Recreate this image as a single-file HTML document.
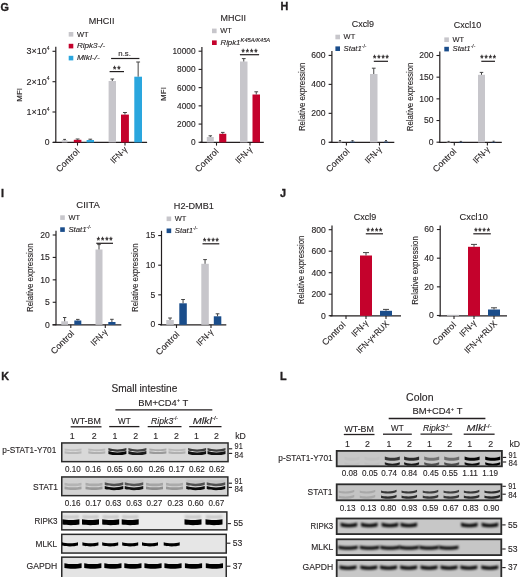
<!DOCTYPE html><html><head><meta charset="utf-8"><style>html,body{margin:0;padding:0;background:#fff;}svg{display:block;filter:blur(0.3px);}text{stroke:#231f20;stroke-width:0.12px;}</style></head><body>
<svg width="520" height="577" viewBox="0 0 520 577" font-family='"Liberation Sans", sans-serif' fill="#231f20">
<defs><filter id="bl" x="-20%" y="-100%" width="140%" height="300%"><feGaussianBlur stdDeviation="0.55"/></filter><filter id="bl3" x="-20%" y="-100%" width="140%" height="300%"><feGaussianBlur stdDeviation="0.85"/></filter><filter id="bl2" x="-20%" y="-100%" width="140%" height="300%"><feGaussianBlur stdDeviation="1.1"/></filter></defs>
<rect width="520" height="577" fill="#fff"/>
<text x="0.50" y="10.50" font-size="10.8" font-weight="bold" style="stroke-width:0.35px">G</text>
<text x="280.40" y="10.40" font-size="10.8" font-weight="bold" style="stroke-width:0.35px">H</text>
<text x="1.00" y="196.60" font-size="10.8" font-weight="bold" style="stroke-width:0.35px">I</text>
<text x="280.00" y="197.20" font-size="10.8" font-weight="bold" style="stroke-width:0.35px">J</text>
<text x="1.20" y="380.30" font-size="10.8" font-weight="bold" style="stroke-width:0.35px">K</text>
<text x="280.00" y="380.30" font-size="10.8" font-weight="bold" style="stroke-width:0.35px">L</text>
<line x1="55.80" y1="46.80" x2="55.80" y2="142.90" stroke="#231f20" stroke-width="1.2"/>
<line x1="52.50" y1="142.40" x2="55.80" y2="142.40" stroke="#231f20" stroke-width="1.1"/>
<line x1="52.50" y1="112.00" x2="55.80" y2="112.00" stroke="#231f20" stroke-width="1.1"/>
<line x1="52.50" y1="81.70" x2="55.80" y2="81.70" stroke="#231f20" stroke-width="1.1"/>
<line x1="52.50" y1="51.30" x2="55.80" y2="51.30" stroke="#231f20" stroke-width="1.1"/>
<text x="49.50" y="145.40" font-size="8.6" text-anchor="end">0</text>
<text x="49.60" y="114.80" font-size="9.0" text-anchor="end">1×10<tspan font-size="5.0" dy="-4.2">4</tspan></text>
<text x="49.60" y="84.50" font-size="9.0" text-anchor="end">2×10<tspan font-size="5.0" dy="-4.2">4</tspan></text>
<text x="49.60" y="54.10" font-size="9.0" text-anchor="end">3×10<tspan font-size="5.0" dy="-4.2">4</tspan></text>
<text x="22.40" y="94.80" font-size="8.0" text-anchor="middle" transform="rotate(-90 22.40 94.80)">MFI</text>
<text x="101.60" y="24.10" font-size="9.4" text-anchor="middle" textLength="25.60" lengthAdjust="spacingAndGlyphs">MHCII</text>
<rect x="68.70" y="32.00" width="4.60" height="4.60" fill="#c7c6cb"/>
<text x="76.90" y="36.60" font-size="7.8" textLength="11.60" lengthAdjust="spacingAndGlyphs">WT</text>
<rect x="68.70" y="43.80" width="4.60" height="4.60" fill="#c4022c"/>
<text x="76.90" y="48.40" font-size="7.8" font-style="italic" textLength="28.40" lengthAdjust="spacingAndGlyphs">Ripk3-/-</text>
<rect x="68.70" y="55.80" width="4.60" height="4.60" fill="#2aa6de"/>
<text x="76.90" y="60.40" font-size="7.8" font-style="italic" textLength="22.80" lengthAdjust="spacingAndGlyphs">Mlkl-/-</text>
<line x1="52.90" y1="142.40" x2="147.10" y2="142.40" stroke="#231f20" stroke-width="1.2"/>
<line x1="77.50" y1="142.40" x2="77.50" y2="145.60" stroke="#231f20" stroke-width="1.1"/>
<line x1="125.00" y1="142.40" x2="125.00" y2="145.60" stroke="#231f20" stroke-width="1.1"/>
<rect x="61.80" y="140.20" width="5.60" height="2.20" fill="#c7c6cb"/>
<line x1="64.60" y1="140.20" x2="64.60" y2="139.40" stroke="#444" stroke-width="1.0"/>
<line x1="63.20" y1="139.40" x2="66.00" y2="139.40" stroke="#444" stroke-width="1.0"/>
<rect x="73.80" y="139.80" width="7.60" height="2.60" fill="#c4022c"/>
<line x1="77.60" y1="139.80" x2="77.60" y2="139.00" stroke="#444" stroke-width="1.0"/>
<line x1="75.70" y1="139.00" x2="79.50" y2="139.00" stroke="#444" stroke-width="1.0"/>
<rect x="86.60" y="140.00" width="7.40" height="2.40" fill="#2aa6de"/>
<line x1="90.30" y1="140.00" x2="90.30" y2="139.20" stroke="#444" stroke-width="1.0"/>
<line x1="88.45" y1="139.20" x2="92.15" y2="139.20" stroke="#444" stroke-width="1.0"/>
<rect x="108.60" y="81.00" width="7.40" height="61.40" fill="#c7c6cb"/>
<line x1="112.30" y1="81.00" x2="112.30" y2="79.00" stroke="#444" stroke-width="1.0"/>
<line x1="110.45" y1="79.00" x2="114.15" y2="79.00" stroke="#444" stroke-width="1.0"/>
<rect x="121.00" y="114.60" width="7.90" height="27.80" fill="#c4022c"/>
<line x1="124.95" y1="114.60" x2="124.95" y2="112.50" stroke="#444" stroke-width="1.0"/>
<line x1="122.97" y1="112.50" x2="126.93" y2="112.50" stroke="#444" stroke-width="1.0"/>
<rect x="134.30" y="76.70" width="7.70" height="65.70" fill="#2aa6de"/>
<line x1="138.15" y1="76.70" x2="138.15" y2="62.00" stroke="#444" stroke-width="1.0"/>
<line x1="136.23" y1="62.00" x2="140.07" y2="62.00" stroke="#444" stroke-width="1.0"/>
<line x1="109.60" y1="71.60" x2="124.00" y2="71.60" stroke="#231f20" stroke-width="1.2"/>
<text x="117.30" y="71.50" font-size="8.4" text-anchor="middle" letter-spacing="0.95" style="stroke-width:0.3px">**</text>
<line x1="111.10" y1="58.50" x2="139.40" y2="58.50" stroke="#231f20" stroke-width="1.2"/>
<text x="124.60" y="56.00" font-size="7.8" text-anchor="middle">n.s.</text>
<text x="80.10" y="152.00" font-size="8.8" text-anchor="end" textLength="29.20" lengthAdjust="spacingAndGlyphs" transform="rotate(-45 80.10 152.00)">Control</text>
<text x="127.90" y="150.20" font-size="8.8" text-anchor="end" textLength="19.60" lengthAdjust="spacingAndGlyphs" transform="rotate(-45 127.90 150.20)">IFN-γ</text>
<line x1="201.90" y1="47.00" x2="201.90" y2="142.90" stroke="#231f20" stroke-width="1.2"/>
<line x1="198.60" y1="142.30" x2="201.90" y2="142.30" stroke="#231f20" stroke-width="1.1"/>
<line x1="198.60" y1="124.08" x2="201.90" y2="124.08" stroke="#231f20" stroke-width="1.1"/>
<line x1="198.60" y1="105.86" x2="201.90" y2="105.86" stroke="#231f20" stroke-width="1.1"/>
<line x1="198.60" y1="87.64" x2="201.90" y2="87.64" stroke="#231f20" stroke-width="1.1"/>
<line x1="198.60" y1="69.42" x2="201.90" y2="69.42" stroke="#231f20" stroke-width="1.1"/>
<line x1="198.60" y1="51.20" x2="201.90" y2="51.20" stroke="#231f20" stroke-width="1.1"/>
<text x="195.60" y="145.20" font-size="8.6" text-anchor="end" textLength="4.62" lengthAdjust="spacingAndGlyphs">0</text>
<text x="195.60" y="126.98" font-size="8.6" text-anchor="end" textLength="18.48" lengthAdjust="spacingAndGlyphs">2000</text>
<text x="195.60" y="108.76" font-size="8.6" text-anchor="end" textLength="18.48" lengthAdjust="spacingAndGlyphs">4000</text>
<text x="195.60" y="90.54" font-size="8.6" text-anchor="end" textLength="18.48" lengthAdjust="spacingAndGlyphs">6000</text>
<text x="195.60" y="72.32" font-size="8.6" text-anchor="end" textLength="18.48" lengthAdjust="spacingAndGlyphs">8000</text>
<text x="195.60" y="54.10" font-size="8.6" text-anchor="end" textLength="23.10" lengthAdjust="spacingAndGlyphs">10000</text>
<text x="165.60" y="94.00" font-size="8.0" text-anchor="middle" transform="rotate(-90 165.60 94.00)">MFI</text>
<text x="233.30" y="21.20" font-size="9.4" text-anchor="middle" textLength="25.40" lengthAdjust="spacingAndGlyphs">MHCII</text>
<rect x="212.00" y="28.60" width="4.60" height="4.60" fill="#c7c6cb"/>
<text x="220.20" y="33.20" font-size="7.8" textLength="11.60" lengthAdjust="spacingAndGlyphs">WT</text>
<rect x="212.0" y="40.4" width="4.7" height="4.6" fill="#c4022c"/>
<text x="220.5" y="45.3" font-size="7.8" font-style="italic">Ripk1</text>
<text x="240.6" y="41.6" font-size="5.4" font-style="italic" textLength="29.6" lengthAdjust="spacingAndGlyphs">K45A/K45A</text>
<line x1="200.00" y1="142.40" x2="263.80" y2="142.40" stroke="#231f20" stroke-width="1.2"/>
<line x1="216.50" y1="142.40" x2="216.50" y2="145.60" stroke="#231f20" stroke-width="1.1"/>
<line x1="250.00" y1="142.40" x2="250.00" y2="145.60" stroke="#231f20" stroke-width="1.1"/>
<rect x="206.80" y="137.00" width="7.00" height="5.40" fill="#c7c6cb"/>
<line x1="210.30" y1="137.00" x2="210.30" y2="135.80" stroke="#444" stroke-width="1.0"/>
<line x1="208.55" y1="135.80" x2="212.05" y2="135.80" stroke="#444" stroke-width="1.0"/>
<rect x="219.20" y="133.80" width="7.10" height="8.60" fill="#c4022c"/>
<line x1="222.75" y1="133.80" x2="222.75" y2="132.40" stroke="#444" stroke-width="1.0"/>
<line x1="220.97" y1="132.40" x2="224.53" y2="132.40" stroke="#444" stroke-width="1.0"/>
<rect x="240.00" y="61.50" width="7.50" height="80.90" fill="#c7c6cb"/>
<line x1="243.75" y1="61.50" x2="243.75" y2="58.60" stroke="#444" stroke-width="1.0"/>
<line x1="241.88" y1="58.60" x2="245.62" y2="58.60" stroke="#444" stroke-width="1.0"/>
<rect x="252.50" y="94.50" width="7.50" height="47.90" fill="#c4022c"/>
<line x1="256.25" y1="94.50" x2="256.25" y2="91.80" stroke="#444" stroke-width="1.0"/>
<line x1="254.38" y1="91.80" x2="258.12" y2="91.80" stroke="#444" stroke-width="1.0"/>
<line x1="239.90" y1="54.70" x2="259.10" y2="54.70" stroke="#231f20" stroke-width="1.2"/>
<text x="250.00" y="54.60" font-size="8.4" text-anchor="middle" letter-spacing="0.95" style="stroke-width:0.3px">****</text>
<text x="219.10" y="152.00" font-size="8.8" text-anchor="end" textLength="29.20" lengthAdjust="spacingAndGlyphs" transform="rotate(-45 219.10 152.00)">Control</text>
<text x="252.90" y="150.20" font-size="8.8" text-anchor="end" textLength="19.60" lengthAdjust="spacingAndGlyphs" transform="rotate(-45 252.90 150.20)">IFN-γ</text>
<line x1="331.90" y1="51.00" x2="331.90" y2="142.90" stroke="#231f20" stroke-width="1.2"/>
<line x1="328.60" y1="142.30" x2="331.90" y2="142.30" stroke="#231f20" stroke-width="1.1"/>
<line x1="328.60" y1="113.34" x2="331.90" y2="113.34" stroke="#231f20" stroke-width="1.1"/>
<line x1="328.60" y1="84.38" x2="331.90" y2="84.38" stroke="#231f20" stroke-width="1.1"/>
<line x1="328.60" y1="55.42" x2="331.90" y2="55.42" stroke="#231f20" stroke-width="1.1"/>
<text x="325.60" y="145.20" font-size="8.6" text-anchor="end">0</text>
<text x="325.60" y="116.24" font-size="8.6" text-anchor="end">200</text>
<text x="325.60" y="87.28" font-size="8.6" text-anchor="end">400</text>
<text x="325.60" y="58.32" font-size="8.6" text-anchor="end">600</text>
<text x="305.00" y="96.80" font-size="8.8" text-anchor="middle" textLength="68.60" lengthAdjust="spacingAndGlyphs" transform="rotate(-90 305.00 96.80)">Relative expression</text>
<text x="362.90" y="27.30" font-size="9.4" text-anchor="middle" textLength="22.40" lengthAdjust="spacingAndGlyphs">Cxcl9</text>
<rect x="335.40" y="34.70" width="4.60" height="4.60" fill="#c7c6cb"/>
<text x="343.60" y="39.30" font-size="7.8" textLength="11.60" lengthAdjust="spacingAndGlyphs">WT</text>
<rect x="335.40" y="46.40" width="4.60" height="4.60" fill="#1a4d8b"/>
<text x="343.60" y="51.00" font-size="7.8" font-style="italic">Stat1<tspan font-size="4.84" dy="-3.3" font-style="normal">-/-</tspan></text>
<line x1="329.50" y1="142.40" x2="394.30" y2="142.40" stroke="#231f20" stroke-width="1.2"/>
<line x1="346.40" y1="142.40" x2="346.40" y2="145.60" stroke="#231f20" stroke-width="1.1"/>
<line x1="379.50" y1="142.40" x2="379.50" y2="145.60" stroke="#231f20" stroke-width="1.1"/>
<rect x="337.80" y="141.60" width="4.40" height="0.80" fill="#c7c6cb"/>
<line x1="340.00" y1="141.60" x2="340.00" y2="140.60" stroke="#444" stroke-width="1.0"/>
<line x1="338.90" y1="140.60" x2="341.10" y2="140.60" stroke="#444" stroke-width="1.0"/>
<rect x="350.40" y="141.60" width="4.20" height="0.80" fill="#1a4d8b"/>
<line x1="352.50" y1="141.60" x2="352.50" y2="140.60" stroke="#444" stroke-width="1.0"/>
<line x1="351.45" y1="140.60" x2="353.55" y2="140.60" stroke="#444" stroke-width="1.0"/>
<rect x="370.00" y="74.00" width="7.50" height="68.40" fill="#c7c6cb"/>
<line x1="373.75" y1="74.00" x2="373.75" y2="68.20" stroke="#444" stroke-width="1.0"/>
<line x1="371.88" y1="68.20" x2="375.62" y2="68.20" stroke="#444" stroke-width="1.0"/>
<rect x="384.00" y="141.60" width="4.00" height="0.80" fill="#1a4d8b"/>
<line x1="386.00" y1="141.60" x2="386.00" y2="140.60" stroke="#444" stroke-width="1.0"/>
<line x1="385.00" y1="140.60" x2="387.00" y2="140.60" stroke="#444" stroke-width="1.0"/>
<line x1="373.80" y1="61.30" x2="388.00" y2="61.30" stroke="#231f20" stroke-width="1.2"/>
<text x="381.40" y="61.20" font-size="8.4" text-anchor="middle" letter-spacing="0.95" style="stroke-width:0.3px">****</text>
<text x="350.10" y="152.00" font-size="8.8" text-anchor="end" textLength="29.20" lengthAdjust="spacingAndGlyphs" transform="rotate(-45 350.10 152.00)">Control</text>
<text x="382.40" y="150.20" font-size="8.8" text-anchor="end" textLength="19.60" lengthAdjust="spacingAndGlyphs" transform="rotate(-45 382.40 150.20)">IFN-γ</text>
<line x1="439.80" y1="51.50" x2="439.80" y2="142.90" stroke="#231f20" stroke-width="1.2"/>
<line x1="436.50" y1="142.20" x2="439.80" y2="142.20" stroke="#231f20" stroke-width="1.1"/>
<line x1="436.50" y1="120.52" x2="439.80" y2="120.52" stroke="#231f20" stroke-width="1.1"/>
<line x1="436.50" y1="98.85" x2="439.80" y2="98.85" stroke="#231f20" stroke-width="1.1"/>
<line x1="436.50" y1="77.17" x2="439.80" y2="77.17" stroke="#231f20" stroke-width="1.1"/>
<line x1="436.50" y1="55.50" x2="439.80" y2="55.50" stroke="#231f20" stroke-width="1.1"/>
<text x="433.50" y="145.10" font-size="8.6" text-anchor="end">0</text>
<text x="433.50" y="123.42" font-size="8.6" text-anchor="end">50</text>
<text x="433.50" y="101.75" font-size="8.6" text-anchor="end">100</text>
<text x="433.50" y="80.07" font-size="8.6" text-anchor="end">150</text>
<text x="433.50" y="58.40" font-size="8.6" text-anchor="end">200</text>
<text x="413.20" y="96.90" font-size="8.8" text-anchor="middle" textLength="68.60" lengthAdjust="spacingAndGlyphs" transform="rotate(-90 413.20 96.90)">Relative expression</text>
<text x="467.50" y="28.20" font-size="9.4" text-anchor="middle" textLength="27.40" lengthAdjust="spacingAndGlyphs">Cxcl10</text>
<rect x="444.30" y="37.40" width="4.60" height="4.60" fill="#c7c6cb"/>
<text x="452.50" y="42.00" font-size="7.8" textLength="11.60" lengthAdjust="spacingAndGlyphs">WT</text>
<rect x="444.30" y="46.80" width="4.60" height="4.60" fill="#1a4d8b"/>
<text x="452.50" y="51.40" font-size="7.8" font-style="italic">Stat1<tspan font-size="4.84" dy="-3.3" font-style="normal">-/-</tspan></text>
<line x1="438.80" y1="142.40" x2="501.80" y2="142.40" stroke="#231f20" stroke-width="1.2"/>
<line x1="454.30" y1="142.40" x2="454.30" y2="145.60" stroke="#231f20" stroke-width="1.1"/>
<line x1="487.40" y1="142.40" x2="487.40" y2="145.60" stroke="#231f20" stroke-width="1.1"/>
<rect x="446.60" y="141.90" width="4.00" height="0.50" fill="#c7c6cb"/>
<line x1="448.60" y1="141.90" x2="448.60" y2="141.40" stroke="#444" stroke-width="1.0"/>
<line x1="447.60" y1="141.40" x2="449.60" y2="141.40" stroke="#444" stroke-width="1.0"/>
<rect x="458.80" y="141.90" width="4.00" height="0.50" fill="#1a4d8b"/>
<line x1="460.80" y1="141.90" x2="460.80" y2="141.40" stroke="#444" stroke-width="1.0"/>
<line x1="459.80" y1="141.40" x2="461.80" y2="141.40" stroke="#444" stroke-width="1.0"/>
<rect x="478.00" y="74.80" width="7.00" height="67.60" fill="#c7c6cb"/>
<line x1="481.50" y1="74.80" x2="481.50" y2="72.40" stroke="#444" stroke-width="1.0"/>
<line x1="479.75" y1="72.40" x2="483.25" y2="72.40" stroke="#444" stroke-width="1.0"/>
<rect x="491.60" y="141.90" width="4.00" height="0.50" fill="#1a4d8b"/>
<line x1="493.60" y1="141.90" x2="493.60" y2="141.20" stroke="#444" stroke-width="1.0"/>
<line x1="492.60" y1="141.20" x2="494.60" y2="141.20" stroke="#444" stroke-width="1.0"/>
<line x1="481.30" y1="61.30" x2="495.00" y2="61.30" stroke="#231f20" stroke-width="1.2"/>
<text x="488.65" y="61.20" font-size="8.4" text-anchor="middle" letter-spacing="0.95" style="stroke-width:0.3px">****</text>
<text x="456.90" y="152.00" font-size="8.8" text-anchor="end" textLength="29.20" lengthAdjust="spacingAndGlyphs" transform="rotate(-45 456.90 152.00)">Control</text>
<text x="490.30" y="150.20" font-size="8.8" text-anchor="end" textLength="19.60" lengthAdjust="spacingAndGlyphs" transform="rotate(-45 490.30 150.20)">IFN-γ</text>
<line x1="56.00" y1="230.80" x2="56.00" y2="325.30" stroke="#231f20" stroke-width="1.2"/>
<line x1="52.70" y1="324.70" x2="56.00" y2="324.70" stroke="#231f20" stroke-width="1.1"/>
<line x1="52.70" y1="302.27" x2="56.00" y2="302.27" stroke="#231f20" stroke-width="1.1"/>
<line x1="52.70" y1="279.85" x2="56.00" y2="279.85" stroke="#231f20" stroke-width="1.1"/>
<line x1="52.70" y1="257.42" x2="56.00" y2="257.42" stroke="#231f20" stroke-width="1.1"/>
<line x1="52.70" y1="235.00" x2="56.00" y2="235.00" stroke="#231f20" stroke-width="1.1"/>
<text x="49.70" y="327.60" font-size="8.6" text-anchor="end">0</text>
<text x="49.70" y="305.17" font-size="8.6" text-anchor="end">5</text>
<text x="49.70" y="282.75" font-size="8.6" text-anchor="end">10</text>
<text x="49.70" y="260.32" font-size="8.6" text-anchor="end">15</text>
<text x="49.70" y="237.90" font-size="8.6" text-anchor="end">20</text>
<text x="33.20" y="277.70" font-size="8.8" text-anchor="middle" textLength="68.60" lengthAdjust="spacingAndGlyphs" transform="rotate(-90 33.20 277.70)">Relative expression</text>
<text x="88.10" y="208.20" font-size="9.4" text-anchor="middle" textLength="23.60" lengthAdjust="spacingAndGlyphs">CIITA</text>
<rect x="60.20" y="215.30" width="4.60" height="4.60" fill="#c7c6cb"/>
<text x="68.40" y="219.90" font-size="7.8" textLength="11.60" lengthAdjust="spacingAndGlyphs">WT</text>
<rect x="60.20" y="227.30" width="4.60" height="4.60" fill="#1a4d8b"/>
<text x="68.40" y="231.90" font-size="7.8" font-style="italic">Stat1<tspan font-size="4.84" dy="-3.3" font-style="normal">-/-</tspan></text>
<line x1="52.50" y1="324.80" x2="121.30" y2="324.80" stroke="#231f20" stroke-width="1.2"/>
<line x1="70.80" y1="324.80" x2="70.80" y2="328.00" stroke="#231f20" stroke-width="1.1"/>
<line x1="105.30" y1="324.80" x2="105.30" y2="328.00" stroke="#231f20" stroke-width="1.1"/>
<rect x="61.30" y="321.30" width="6.70" height="3.50" fill="#c7c6cb"/>
<line x1="64.65" y1="321.30" x2="64.65" y2="317.50" stroke="#444" stroke-width="1.0"/>
<line x1="62.98" y1="317.50" x2="66.33" y2="317.50" stroke="#444" stroke-width="1.0"/>
<rect x="74.30" y="320.50" width="7.00" height="4.30" fill="#1a4d8b"/>
<line x1="77.80" y1="320.50" x2="77.80" y2="319.40" stroke="#444" stroke-width="1.0"/>
<line x1="76.05" y1="319.40" x2="79.55" y2="319.40" stroke="#444" stroke-width="1.0"/>
<rect x="95.50" y="249.50" width="7.00" height="75.30" fill="#c7c6cb"/>
<line x1="99.00" y1="249.50" x2="99.00" y2="244.60" stroke="#444" stroke-width="1.0"/>
<line x1="97.25" y1="244.60" x2="100.75" y2="244.60" stroke="#444" stroke-width="1.0"/>
<rect x="108.30" y="322.00" width="7.20" height="2.80" fill="#1a4d8b"/>
<line x1="111.90" y1="322.00" x2="111.90" y2="319.30" stroke="#444" stroke-width="1.0"/>
<line x1="110.10" y1="319.30" x2="113.70" y2="319.30" stroke="#444" stroke-width="1.0"/>
<line x1="96.30" y1="243.30" x2="113.00" y2="243.30" stroke="#231f20" stroke-width="1.2"/>
<text x="105.15" y="243.20" font-size="8.4" text-anchor="middle" letter-spacing="0.95" style="stroke-width:0.3px">****</text>
<text x="74.80" y="334.10" font-size="8.8" text-anchor="end" textLength="29.20" lengthAdjust="spacingAndGlyphs" transform="rotate(-45 74.80 334.10)">Control</text>
<text x="108.20" y="332.60" font-size="8.8" text-anchor="end" textLength="19.60" lengthAdjust="spacingAndGlyphs" transform="rotate(-45 108.20 332.60)">IFN-γ</text>
<line x1="161.50" y1="230.80" x2="161.50" y2="325.30" stroke="#231f20" stroke-width="1.2"/>
<line x1="158.20" y1="324.50" x2="161.50" y2="324.50" stroke="#231f20" stroke-width="1.1"/>
<line x1="158.20" y1="294.85" x2="161.50" y2="294.85" stroke="#231f20" stroke-width="1.1"/>
<line x1="158.20" y1="265.20" x2="161.50" y2="265.20" stroke="#231f20" stroke-width="1.1"/>
<line x1="158.20" y1="235.55" x2="161.50" y2="235.55" stroke="#231f20" stroke-width="1.1"/>
<text x="155.40" y="327.40" font-size="8.6" text-anchor="end">0</text>
<text x="155.40" y="297.75" font-size="8.6" text-anchor="end">5</text>
<text x="155.40" y="268.10" font-size="8.6" text-anchor="end">10</text>
<text x="155.40" y="238.45" font-size="8.6" text-anchor="end">15</text>
<text x="138.20" y="277.70" font-size="8.8" text-anchor="middle" textLength="68.60" lengthAdjust="spacingAndGlyphs" transform="rotate(-90 138.20 277.70)">Relative expression</text>
<text x="193.80" y="208.70" font-size="9.4" text-anchor="middle" textLength="40.00" lengthAdjust="spacingAndGlyphs">H2-DMB1</text>
<rect x="166.60" y="216.50" width="4.60" height="4.60" fill="#c7c6cb"/>
<text x="174.80" y="221.10" font-size="7.8" textLength="11.60" lengthAdjust="spacingAndGlyphs">WT</text>
<rect x="166.60" y="228.50" width="4.60" height="4.60" fill="#1a4d8b"/>
<text x="174.80" y="233.10" font-size="7.8" font-style="italic">Stat1<tspan font-size="4.84" dy="-3.3" font-style="normal">-/-</tspan></text>
<line x1="160.00" y1="324.80" x2="226.30" y2="324.80" stroke="#231f20" stroke-width="1.2"/>
<line x1="176.50" y1="324.80" x2="176.50" y2="328.00" stroke="#231f20" stroke-width="1.1"/>
<line x1="211.00" y1="324.80" x2="211.00" y2="328.00" stroke="#231f20" stroke-width="1.1"/>
<rect x="166.30" y="320.00" width="7.50" height="4.80" fill="#c7c6cb"/>
<line x1="170.05" y1="320.00" x2="170.05" y2="318.00" stroke="#444" stroke-width="1.0"/>
<line x1="168.18" y1="318.00" x2="171.93" y2="318.00" stroke="#444" stroke-width="1.0"/>
<rect x="179.30" y="303.30" width="7.50" height="21.50" fill="#1a4d8b"/>
<line x1="183.05" y1="303.30" x2="183.05" y2="299.50" stroke="#444" stroke-width="1.0"/>
<line x1="181.18" y1="299.50" x2="184.93" y2="299.50" stroke="#444" stroke-width="1.0"/>
<rect x="201.30" y="263.80" width="7.50" height="61.00" fill="#c7c6cb"/>
<line x1="205.05" y1="263.80" x2="205.05" y2="259.60" stroke="#444" stroke-width="1.0"/>
<line x1="203.18" y1="259.60" x2="206.93" y2="259.60" stroke="#444" stroke-width="1.0"/>
<rect x="213.80" y="316.30" width="7.50" height="8.50" fill="#1a4d8b"/>
<line x1="217.55" y1="316.30" x2="217.55" y2="313.80" stroke="#444" stroke-width="1.0"/>
<line x1="215.68" y1="313.80" x2="219.43" y2="313.80" stroke="#444" stroke-width="1.0"/>
<line x1="202.50" y1="243.80" x2="219.30" y2="243.80" stroke="#231f20" stroke-width="1.2"/>
<text x="211.40" y="243.70" font-size="8.4" text-anchor="middle" letter-spacing="0.95" style="stroke-width:0.3px">****</text>
<text x="180.00" y="335.00" font-size="8.8" text-anchor="end" textLength="29.20" lengthAdjust="spacingAndGlyphs" transform="rotate(-45 180.00 335.00)">Control</text>
<text x="213.90" y="332.60" font-size="8.8" text-anchor="end" textLength="19.60" lengthAdjust="spacingAndGlyphs" transform="rotate(-45 213.90 332.60)">IFN-γ</text>
<line x1="332.00" y1="225.50" x2="332.00" y2="316.30" stroke="#231f20" stroke-width="1.2"/>
<line x1="328.70" y1="315.70" x2="332.00" y2="315.70" stroke="#231f20" stroke-width="1.1"/>
<line x1="328.70" y1="294.20" x2="332.00" y2="294.20" stroke="#231f20" stroke-width="1.1"/>
<line x1="328.70" y1="272.70" x2="332.00" y2="272.70" stroke="#231f20" stroke-width="1.1"/>
<line x1="328.70" y1="251.20" x2="332.00" y2="251.20" stroke="#231f20" stroke-width="1.1"/>
<line x1="328.70" y1="229.70" x2="332.00" y2="229.70" stroke="#231f20" stroke-width="1.1"/>
<text x="325.80" y="318.60" font-size="8.6" text-anchor="end">0</text>
<text x="325.80" y="297.10" font-size="8.6" text-anchor="end">200</text>
<text x="325.80" y="275.60" font-size="8.6" text-anchor="end">400</text>
<text x="325.80" y="254.10" font-size="8.6" text-anchor="end">600</text>
<text x="325.80" y="232.60" font-size="8.6" text-anchor="end">800</text>
<text x="304.00" y="269.90" font-size="8.8" text-anchor="middle" textLength="68.60" lengthAdjust="spacingAndGlyphs" transform="rotate(-90 304.00 269.90)">Relative expression</text>
<text x="365.00" y="219.80" font-size="9.4" text-anchor="middle" textLength="22.40" lengthAdjust="spacingAndGlyphs">Cxcl9</text>
<line x1="330.00" y1="315.80" x2="401.00" y2="315.80" stroke="#231f20" stroke-width="1.2"/>
<line x1="346.00" y1="315.80" x2="346.00" y2="319.00" stroke="#231f20" stroke-width="1.1"/>
<line x1="366.00" y1="315.80" x2="366.00" y2="319.00" stroke="#231f20" stroke-width="1.1"/>
<line x1="386.00" y1="315.80" x2="386.00" y2="319.00" stroke="#231f20" stroke-width="1.1"/>
<rect x="360.00" y="255.50" width="12.00" height="60.30" fill="#c4022c"/>
<line x1="366.00" y1="255.50" x2="366.00" y2="252.60" stroke="#444" stroke-width="1.0"/>
<line x1="363.00" y1="252.60" x2="369.00" y2="252.60" stroke="#444" stroke-width="1.0"/>
<rect x="380.00" y="310.80" width="12.00" height="5.00" fill="#1a4d8b"/>
<line x1="386.00" y1="310.80" x2="386.00" y2="309.40" stroke="#444" stroke-width="1.0"/>
<line x1="383.00" y1="309.40" x2="389.00" y2="309.40" stroke="#444" stroke-width="1.0"/>
<line x1="365.80" y1="233.80" x2="383.00" y2="233.80" stroke="#231f20" stroke-width="1.2"/>
<text x="374.90" y="233.70" font-size="8.4" text-anchor="middle" letter-spacing="0.95" style="stroke-width:0.3px">****</text>
<text x="346.10" y="325.40" font-size="8.8" text-anchor="end" textLength="29.20" lengthAdjust="spacingAndGlyphs" transform="rotate(-45 346.10 325.40)">Control</text>
<text x="368.90" y="323.60" font-size="8.8" text-anchor="end" textLength="19.60" lengthAdjust="spacingAndGlyphs" transform="rotate(-45 368.90 323.60)">IFN-γ</text>
<text x="389.60" y="324.40" font-size="8.8" text-anchor="end" textLength="42.00" lengthAdjust="spacingAndGlyphs" transform="rotate(-45 389.60 324.40)">IFN-γ+RUX</text>
<line x1="440.20" y1="225.50" x2="440.20" y2="316.30" stroke="#231f20" stroke-width="1.2"/>
<line x1="436.90" y1="315.50" x2="440.20" y2="315.50" stroke="#231f20" stroke-width="1.1"/>
<line x1="436.90" y1="286.84" x2="440.20" y2="286.84" stroke="#231f20" stroke-width="1.1"/>
<line x1="436.90" y1="258.18" x2="440.20" y2="258.18" stroke="#231f20" stroke-width="1.1"/>
<line x1="436.90" y1="229.52" x2="440.20" y2="229.52" stroke="#231f20" stroke-width="1.1"/>
<text x="433.80" y="318.40" font-size="8.6" text-anchor="end">0</text>
<text x="433.80" y="289.74" font-size="8.6" text-anchor="end">20</text>
<text x="433.80" y="261.08" font-size="8.6" text-anchor="end">40</text>
<text x="433.80" y="232.42" font-size="8.6" text-anchor="end">60</text>
<text x="417.60" y="270.50" font-size="8.8" text-anchor="middle" textLength="68.60" lengthAdjust="spacingAndGlyphs" transform="rotate(-90 417.60 270.50)">Relative expression</text>
<text x="473.80" y="220.00" font-size="9.4" text-anchor="middle" textLength="28.40" lengthAdjust="spacingAndGlyphs">Cxcl10</text>
<line x1="438.80" y1="315.80" x2="507.00" y2="315.80" stroke="#231f20" stroke-width="1.2"/>
<line x1="454.00" y1="315.80" x2="454.00" y2="319.00" stroke="#231f20" stroke-width="1.1"/>
<line x1="474.00" y1="315.80" x2="474.00" y2="319.00" stroke="#231f20" stroke-width="1.1"/>
<line x1="494.00" y1="315.80" x2="494.00" y2="319.00" stroke="#231f20" stroke-width="1.1"/>
<rect x="447.00" y="314.80" width="12.00" height="1.00" fill="#c7c6cb"/>
<rect x="468.00" y="246.80" width="12.00" height="69.00" fill="#c4022c"/>
<line x1="474.00" y1="246.80" x2="474.00" y2="244.40" stroke="#444" stroke-width="1.0"/>
<line x1="471.00" y1="244.40" x2="477.00" y2="244.40" stroke="#444" stroke-width="1.0"/>
<rect x="488.00" y="309.50" width="12.00" height="6.30" fill="#1a4d8b"/>
<line x1="494.00" y1="309.50" x2="494.00" y2="307.80" stroke="#444" stroke-width="1.0"/>
<line x1="491.00" y1="307.80" x2="497.00" y2="307.80" stroke="#444" stroke-width="1.0"/>
<line x1="473.30" y1="233.80" x2="490.80" y2="233.80" stroke="#231f20" stroke-width="1.2"/>
<text x="482.55" y="233.70" font-size="8.4" text-anchor="middle" letter-spacing="0.95" style="stroke-width:0.3px">****</text>
<text x="456.60" y="325.40" font-size="8.8" text-anchor="end" textLength="29.20" lengthAdjust="spacingAndGlyphs" transform="rotate(-45 456.60 325.40)">Control</text>
<text x="476.90" y="323.60" font-size="8.8" text-anchor="end" textLength="19.60" lengthAdjust="spacingAndGlyphs" transform="rotate(-45 476.90 323.60)">IFN-γ</text>
<text x="497.60" y="324.40" font-size="8.8" text-anchor="end" textLength="42.00" lengthAdjust="spacingAndGlyphs" transform="rotate(-45 497.60 324.40)">IFN-γ+RUX</text>
<text x="144.40" y="392.30" font-size="10.2" text-anchor="middle" textLength="66.00" lengthAdjust="spacingAndGlyphs">Small intestine</text>
<text x="163.3" y="405.5" font-size="9.4" text-anchor="middle" textLength="50" lengthAdjust="spacingAndGlyphs">BM+CD4<tspan font-size="5.8" dy="-3.6">+</tspan><tspan dy="3.6"> T</tspan></text>
<line x1="115.40" y1="409.80" x2="212.30" y2="409.80" stroke="#231f20" stroke-width="1.3"/>
<text x="86.10" y="423.80" font-size="8.8" text-anchor="middle" textLength="29.50" lengthAdjust="spacingAndGlyphs">WT-BM</text>
<line x1="70.70" y1="426.80" x2="101.50" y2="426.80" stroke="#231f20" stroke-width="1.3"/>
<text x="124.30" y="423.60" font-size="8.8" text-anchor="middle" textLength="12.60" lengthAdjust="spacingAndGlyphs">WT</text>
<line x1="109.20" y1="426.60" x2="139.40" y2="426.60" stroke="#231f20" stroke-width="1.3"/>
<text x="164.60" y="423.60" font-size="8.8" text-anchor="middle" textLength="27.00" lengthAdjust="spacingAndGlyphs" font-style="italic">Ripk3<tspan font-size="5.28" dy="-3.6" font-style="normal">-/-</tspan></text>
<line x1="147.70" y1="426.60" x2="181.50" y2="426.60" stroke="#231f20" stroke-width="1.3"/>
<text x="205.35" y="423.60" font-size="8.8" text-anchor="middle" textLength="25.40" lengthAdjust="spacingAndGlyphs" font-style="italic">Mlkl<tspan font-size="5.28" dy="-3.6" font-style="normal">-/-</tspan></text>
<line x1="189.20" y1="426.60" x2="221.50" y2="426.60" stroke="#231f20" stroke-width="1.3"/>
<text x="72.10" y="438.80" font-size="8.8" text-anchor="middle">1</text>
<text x="94.30" y="438.80" font-size="8.8" text-anchor="middle">2</text>
<text x="115.00" y="438.80" font-size="8.8" text-anchor="middle">1</text>
<text x="135.60" y="438.80" font-size="8.8" text-anchor="middle">2</text>
<text x="155.60" y="438.80" font-size="8.8" text-anchor="middle">1</text>
<text x="176.40" y="438.80" font-size="8.8" text-anchor="middle">2</text>
<text x="196.40" y="438.80" font-size="8.8" text-anchor="middle">1</text>
<text x="216.40" y="438.80" font-size="8.8" text-anchor="middle">2</text>
<text x="235.20" y="438.80" font-size="8.8" textLength="10.60" lengthAdjust="spacingAndGlyphs">kD</text>
<text x="56.30" y="452.90" font-size="8.6" text-anchor="end" textLength="54.00" lengthAdjust="spacingAndGlyphs">p-STAT1-Y701</text>
<rect x="61.75" y="442.95" width="166.30" height="18.70" fill="#d9d9d9" stroke="#2b2b2b" stroke-width="1.5"/>
<path d="M64.50,448.50 C68.75,449.45 77.25,449.45 81.50,448.50 L81.50,450.60 C77.25,451.40 68.75,451.40 64.50,450.60 Z" fill="#000" fill-opacity="0.12" filter="url(#bl)"/>
<path d="M64.50,451.30 C68.75,452.25 77.25,452.25 81.50,451.30 L81.50,453.40 C77.25,454.20 68.75,454.20 64.50,453.40 Z" fill="#000" fill-opacity="0.16" filter="url(#bl)"/>
<path d="M88.30,448.50 C92.55,449.45 101.05,449.45 105.30,448.50 L105.30,450.60 C101.05,451.40 92.55,451.40 88.30,450.60 Z" fill="#000" fill-opacity="0.15" filter="url(#bl)"/>
<path d="M88.30,451.30 C92.55,452.25 101.05,452.25 105.30,451.30 L105.30,453.40 C101.05,454.20 92.55,454.20 88.30,453.40 Z" fill="#000" fill-opacity="0.19" filter="url(#bl)"/>
<path d="M108.40,448.00 C112.90,449.90 121.90,449.90 126.40,448.00 L126.40,450.60 C121.90,452.20 112.90,452.20 108.40,450.60 Z" fill="#000" fill-opacity="0.75" filter="url(#bl)"/>
<path d="M108.40,451.10 C112.90,453.00 121.90,453.00 126.40,451.10 L126.40,453.90 C121.90,455.50 112.90,455.50 108.40,453.90 Z" fill="#000" fill-opacity="0.97" filter="url(#bl)"/>
<path d="M128.40,448.00 C132.90,449.90 141.90,449.90 146.40,448.00 L146.40,450.60 C141.90,452.20 132.90,452.20 128.40,450.60 Z" fill="#000" fill-opacity="0.68" filter="url(#bl)"/>
<path d="M128.40,451.10 C132.90,453.00 141.90,453.00 146.40,451.10 L146.40,453.90 C141.90,455.50 132.90,455.50 128.40,453.90 Z" fill="#000" fill-opacity="0.87" filter="url(#bl)"/>
<path d="M149.40,448.50 C153.65,449.45 162.15,449.45 166.40,448.50 L166.40,450.60 C162.15,451.40 153.65,451.40 149.40,450.60 Z" fill="#000" fill-opacity="0.22" filter="url(#bl)"/>
<path d="M149.40,451.30 C153.65,452.25 162.15,452.25 166.40,451.30 L166.40,453.40 C162.15,454.20 153.65,454.20 149.40,453.40 Z" fill="#000" fill-opacity="0.29" filter="url(#bl)"/>
<path d="M168.50,448.50 C172.75,449.45 181.25,449.45 185.50,448.50 L185.50,450.60 C181.25,451.40 172.75,451.40 168.50,450.60 Z" fill="#000" fill-opacity="0.15" filter="url(#bl)"/>
<path d="M168.50,451.30 C172.75,452.25 181.25,452.25 185.50,451.30 L185.50,453.40 C181.25,454.20 172.75,454.20 168.50,453.40 Z" fill="#000" fill-opacity="0.19" filter="url(#bl)"/>
<path d="M188.10,448.00 C192.60,449.90 201.60,449.90 206.10,448.00 L206.10,450.60 C201.60,452.20 192.60,452.20 188.10,450.60 Z" fill="#000" fill-opacity="0.71" filter="url(#bl)"/>
<path d="M188.10,451.10 C192.60,453.00 201.60,453.00 206.10,451.10 L206.10,453.90 C201.60,455.50 192.60,455.50 188.10,453.90 Z" fill="#000" fill-opacity="0.92" filter="url(#bl)"/>
<path d="M207.50,448.00 C212.00,449.90 221.00,449.90 225.50,448.00 L225.50,450.60 C221.00,452.20 212.00,452.20 207.50,450.60 Z" fill="#000" fill-opacity="0.71" filter="url(#bl)"/>
<path d="M207.50,451.10 C212.00,453.00 221.00,453.00 225.50,451.10 L225.50,453.90 C221.00,455.50 212.00,455.50 207.50,453.90 Z" fill="#000" fill-opacity="0.92" filter="url(#bl)"/>
<line x1="228.80" y1="448.80" x2="232.20" y2="448.80" stroke="#231f20" stroke-width="1.1"/>
<text x="234.60" y="448.90" font-size="9.4" textLength="8.10" lengthAdjust="spacingAndGlyphs">91</text>
<line x1="228.80" y1="453.40" x2="232.20" y2="453.40" stroke="#231f20" stroke-width="1.1"/>
<text x="234.60" y="457.50" font-size="9.4" textLength="8.80" lengthAdjust="spacingAndGlyphs">84</text>
<text x="73.00" y="471.70" font-size="8.6" text-anchor="middle" textLength="15.80" lengthAdjust="spacingAndGlyphs">0.10</text>
<text x="93.10" y="471.70" font-size="8.6" text-anchor="middle" textLength="15.80" lengthAdjust="spacingAndGlyphs">0.16</text>
<text x="114.90" y="471.70" font-size="8.6" text-anchor="middle" textLength="15.80" lengthAdjust="spacingAndGlyphs">0.65</text>
<text x="134.90" y="471.70" font-size="8.6" text-anchor="middle" textLength="15.80" lengthAdjust="spacingAndGlyphs">0.60</text>
<text x="156.70" y="471.70" font-size="8.6" text-anchor="middle" textLength="15.80" lengthAdjust="spacingAndGlyphs">0.26</text>
<text x="176.70" y="471.70" font-size="8.6" text-anchor="middle" textLength="15.80" lengthAdjust="spacingAndGlyphs">0.17</text>
<text x="196.80" y="471.70" font-size="8.6" text-anchor="middle" textLength="15.80" lengthAdjust="spacingAndGlyphs">0.62</text>
<text x="216.90" y="471.70" font-size="8.6" text-anchor="middle" textLength="15.80" lengthAdjust="spacingAndGlyphs">0.62</text>
<text x="58.00" y="489.60" font-size="8.6" text-anchor="end" textLength="25.00" lengthAdjust="spacingAndGlyphs">STAT1</text>
<rect x="61.75" y="476.95" width="166.10" height="18.70" fill="#d3d3d3" stroke="#2b2b2b" stroke-width="1.5"/>
<path d="M64.50,479.40 C68.75,481.30 77.25,481.30 81.50,479.40 L81.50,481.60 C77.25,483.20 68.75,483.20 64.50,481.60 Z" fill="#000" fill-opacity="0.03" filter="url(#bl2)"/>
<path d="M64.50,482.70 C68.75,483.84 77.25,483.84 81.50,482.70 L81.50,485.42 C77.25,486.38 68.75,486.38 64.50,485.42 Z" fill="#000" fill-opacity="0.15" filter="url(#bl)"/>
<path d="M64.50,486.40 C68.75,487.54 77.25,487.54 81.50,486.40 L81.50,489.32 C77.25,490.28 68.75,490.28 64.50,489.32 Z" fill="#000" fill-opacity="0.24" filter="url(#bl)"/>
<path d="M85.50,479.40 C89.75,481.30 98.25,481.30 102.50,479.40 L102.50,481.60 C98.25,483.20 89.75,483.20 85.50,481.60 Z" fill="#000" fill-opacity="0.04" filter="url(#bl2)"/>
<path d="M85.50,482.70 C89.75,483.84 98.25,483.84 102.50,482.70 L102.50,485.42 C98.25,486.38 89.75,486.38 85.50,485.42 Z" fill="#000" fill-opacity="0.19" filter="url(#bl)"/>
<path d="M85.50,486.40 C89.75,487.54 98.25,487.54 102.50,486.40 L102.50,489.32 C98.25,490.28 89.75,490.28 85.50,489.32 Z" fill="#000" fill-opacity="0.28" filter="url(#bl)"/>
<path d="M104.75,479.40 C109.38,481.30 118.62,481.30 123.25,479.40 L123.25,481.60 C118.62,483.20 109.38,483.20 104.75,481.60 Z" fill="#000" fill-opacity="0.12" filter="url(#bl2)"/>
<path d="M104.75,482.30 C109.38,484.20 118.62,484.20 123.25,482.30 L123.25,485.10 C118.62,486.70 109.38,486.70 104.75,485.10 Z" fill="#000" fill-opacity="0.62" filter="url(#bl)"/>
<path d="M104.75,486.00 C109.38,487.90 118.62,487.90 123.25,486.00 L123.25,489.00 C118.62,490.60 109.38,490.60 104.75,489.00 Z" fill="#000" fill-opacity="0.95" filter="url(#bl)"/>
<path d="M124.75,479.40 C129.38,481.30 138.62,481.30 143.25,479.40 L143.25,481.60 C138.62,483.20 129.38,483.20 124.75,481.60 Z" fill="#000" fill-opacity="0.11" filter="url(#bl2)"/>
<path d="M124.75,482.30 C129.38,484.20 138.62,484.20 143.25,482.30 L143.25,485.10 C138.62,486.70 129.38,486.70 124.75,485.10 Z" fill="#000" fill-opacity="0.59" filter="url(#bl)"/>
<path d="M124.75,486.00 C129.38,487.90 138.62,487.90 143.25,486.00 L143.25,489.00 C138.62,490.60 129.38,490.60 124.75,489.00 Z" fill="#000" fill-opacity="0.90" filter="url(#bl)"/>
<path d="M146.00,479.40 C150.25,481.30 158.75,481.30 163.00,479.40 L163.00,481.60 C158.75,483.20 150.25,483.20 146.00,481.60 Z" fill="#000" fill-opacity="0.04" filter="url(#bl2)"/>
<path d="M146.00,482.70 C150.25,483.84 158.75,483.84 163.00,482.70 L163.00,485.42 C158.75,486.38 150.25,486.38 146.00,485.42 Z" fill="#000" fill-opacity="0.22" filter="url(#bl)"/>
<path d="M146.00,486.40 C150.25,487.54 158.75,487.54 163.00,486.40 L163.00,489.32 C158.75,490.28 150.25,490.28 146.00,489.32 Z" fill="#000" fill-opacity="0.33" filter="url(#bl)"/>
<path d="M166.00,479.40 C170.25,481.30 178.75,481.30 183.00,479.40 L183.00,481.60 C178.75,483.20 170.25,483.20 166.00,481.60 Z" fill="#000" fill-opacity="0.04" filter="url(#bl2)"/>
<path d="M166.00,482.70 C170.25,483.84 178.75,483.84 183.00,482.70 L183.00,485.42 C178.75,486.38 170.25,486.38 166.00,485.42 Z" fill="#000" fill-opacity="0.19" filter="url(#bl)"/>
<path d="M166.00,486.40 C170.25,487.54 178.75,487.54 183.00,486.40 L183.00,489.32 C178.75,490.28 170.25,490.28 166.00,489.32 Z" fill="#000" fill-opacity="0.28" filter="url(#bl)"/>
<path d="M186.25,479.40 C190.88,481.30 200.12,481.30 204.75,479.40 L204.75,481.60 C200.12,483.20 190.88,483.20 186.25,481.60 Z" fill="#000" fill-opacity="0.12" filter="url(#bl2)"/>
<path d="M186.25,482.30 C190.88,484.20 200.12,484.20 204.75,482.30 L204.75,485.10 C200.12,486.70 190.88,486.70 186.25,485.10 Z" fill="#000" fill-opacity="0.62" filter="url(#bl)"/>
<path d="M186.25,486.00 C190.88,487.90 200.12,487.90 204.75,486.00 L204.75,489.00 C200.12,490.60 190.88,490.60 186.25,489.00 Z" fill="#000" fill-opacity="0.95" filter="url(#bl)"/>
<path d="M206.75,479.40 C211.38,481.30 220.62,481.30 225.25,479.40 L225.25,481.60 C220.62,483.20 211.38,483.20 206.75,481.60 Z" fill="#000" fill-opacity="0.12" filter="url(#bl2)"/>
<path d="M206.75,482.30 C211.38,484.20 220.62,484.20 225.25,482.30 L225.25,485.10 C220.62,486.70 211.38,486.70 206.75,485.10 Z" fill="#000" fill-opacity="0.62" filter="url(#bl)"/>
<path d="M206.75,486.00 C211.38,487.90 220.62,487.90 225.25,486.00 L225.25,489.00 C220.62,490.60 211.38,490.60 206.75,489.00 Z" fill="#000" fill-opacity="0.95" filter="url(#bl)"/>
<line x1="228.60" y1="483.20" x2="232.00" y2="483.20" stroke="#231f20" stroke-width="1.1"/>
<text x="234.40" y="483.50" font-size="9.4" textLength="8.10" lengthAdjust="spacingAndGlyphs">91</text>
<line x1="228.60" y1="487.40" x2="232.00" y2="487.40" stroke="#231f20" stroke-width="1.1"/>
<text x="234.40" y="491.50" font-size="9.4" textLength="8.80" lengthAdjust="spacingAndGlyphs">84</text>
<text x="72.70" y="506.30" font-size="8.6" text-anchor="middle" textLength="15.80" lengthAdjust="spacingAndGlyphs">0.16</text>
<text x="93.50" y="506.30" font-size="8.6" text-anchor="middle" textLength="15.80" lengthAdjust="spacingAndGlyphs">0.17</text>
<text x="113.50" y="506.30" font-size="8.6" text-anchor="middle" textLength="15.80" lengthAdjust="spacingAndGlyphs">0.63</text>
<text x="134.10" y="506.30" font-size="8.6" text-anchor="middle" textLength="15.80" lengthAdjust="spacingAndGlyphs">0.63</text>
<text x="154.50" y="506.30" font-size="8.6" text-anchor="middle" textLength="15.80" lengthAdjust="spacingAndGlyphs">0.27</text>
<text x="175.50" y="506.30" font-size="8.6" text-anchor="middle" textLength="15.80" lengthAdjust="spacingAndGlyphs">0.23</text>
<text x="195.60" y="506.30" font-size="8.6" text-anchor="middle" textLength="15.80" lengthAdjust="spacingAndGlyphs">0.60</text>
<text x="216.50" y="506.30" font-size="8.6" text-anchor="middle" textLength="15.80" lengthAdjust="spacingAndGlyphs">0.67</text>
<text x="57.60" y="523.80" font-size="8.6" text-anchor="end" textLength="23.20" lengthAdjust="spacingAndGlyphs">RIPK3</text>
<rect x="61.75" y="511.95" width="165.10" height="17.90" fill="#ebebeb" stroke="#2b2b2b" stroke-width="1.5"/>
<path d="M62.65,515.00 C66.78,515.57 75.03,515.57 79.15,515.00 L79.15,518.26 C75.03,518.74 66.78,518.74 62.65,518.26 Z" fill="#000" fill-opacity="0.16" filter="url(#bl2)"/>
<path d="M62.40,519.30 C66.65,520.25 75.15,520.25 79.40,519.30 L79.40,524.60 C75.15,525.40 66.65,525.40 62.40,524.60 Z" fill="#000" fill-opacity="1.00" filter="url(#bl)"/>
<path d="M82.25,515.00 C86.38,515.57 94.62,515.57 98.75,515.00 L98.75,518.26 C94.62,518.74 86.38,518.74 82.25,518.26 Z" fill="#000" fill-opacity="0.16" filter="url(#bl2)"/>
<path d="M82.00,519.30 C86.25,520.25 94.75,520.25 99.00,519.30 L99.00,524.60 C94.75,525.40 86.25,525.40 82.00,524.60 Z" fill="#000" fill-opacity="1.00" filter="url(#bl)"/>
<path d="M102.45,515.00 C106.58,515.57 114.83,515.57 118.95,515.00 L118.95,518.26 C114.83,518.74 106.58,518.74 102.45,518.26 Z" fill="#000" fill-opacity="0.16" filter="url(#bl2)"/>
<path d="M102.20,519.30 C106.45,520.25 114.95,520.25 119.20,519.30 L119.20,524.60 C114.95,525.40 106.45,525.40 102.20,524.60 Z" fill="#000" fill-opacity="1.00" filter="url(#bl)"/>
<path d="M121.95,515.00 C126.07,515.57 134.32,515.57 138.45,515.00 L138.45,518.26 C134.32,518.74 126.07,518.74 121.95,518.26 Z" fill="#000" fill-opacity="0.16" filter="url(#bl2)"/>
<path d="M121.70,519.30 C125.95,520.25 134.45,520.25 138.70,519.30 L138.70,524.60 C134.45,525.40 125.95,525.40 121.70,524.60 Z" fill="#000" fill-opacity="1.00" filter="url(#bl)"/>
<path d="M184.75,515.00 C188.88,515.57 197.12,515.57 201.25,515.00 L201.25,518.26 C197.12,518.74 188.88,518.74 184.75,518.26 Z" fill="#000" fill-opacity="0.16" filter="url(#bl2)"/>
<path d="M184.50,519.30 C188.75,520.25 197.25,520.25 201.50,519.30 L201.50,524.60 C197.25,525.40 188.75,525.40 184.50,524.60 Z" fill="#000" fill-opacity="1.00" filter="url(#bl)"/>
<path d="M205.75,515.00 C209.88,515.57 218.12,515.57 222.25,515.00 L222.25,518.26 C218.12,518.74 209.88,518.74 205.75,518.26 Z" fill="#000" fill-opacity="0.16" filter="url(#bl2)"/>
<path d="M205.50,519.30 C209.75,520.25 218.25,520.25 222.50,519.30 L222.50,524.60 C218.25,525.40 209.75,525.40 205.50,524.60 Z" fill="#000" fill-opacity="1.00" filter="url(#bl)"/>
<line x1="227.60" y1="523.60" x2="231.00" y2="523.60" stroke="#231f20" stroke-width="1.1"/>
<text x="233.40" y="526.40" font-size="9.4" textLength="9.60" lengthAdjust="spacingAndGlyphs">55</text>
<text x="57.20" y="546.80" font-size="8.6" text-anchor="end" textLength="21.60" lengthAdjust="spacingAndGlyphs">MLKL</text>
<rect x="61.75" y="534.35" width="164.50" height="18.70" fill="#e6e6e6" stroke="#2b2b2b" stroke-width="1.5"/>
<path d="M62.00,542.15 C66.00,543.48 74.00,543.48 78.00,542.15 L78.00,545.59 C74.00,546.71 66.00,546.71 62.00,545.59 Z" fill="#000" fill-opacity="1.00" filter="url(#bl)"/>
<path d="M82.40,542.15 C86.40,543.48 94.40,543.48 98.40,542.15 L98.40,545.59 C94.40,546.71 86.40,546.71 82.40,545.59 Z" fill="#000" fill-opacity="1.00" filter="url(#bl)"/>
<path d="M102.20,542.15 C106.20,543.48 114.20,543.48 118.20,542.15 L118.20,545.59 C114.20,546.71 106.20,546.71 102.20,545.59 Z" fill="#000" fill-opacity="1.00" filter="url(#bl)"/>
<path d="M122.20,542.15 C126.20,543.48 134.20,543.48 138.20,542.15 L138.20,545.59 C134.20,546.71 126.20,546.71 122.20,545.59 Z" fill="#000" fill-opacity="1.00" filter="url(#bl)"/>
<path d="M142.00,542.15 C146.00,543.48 154.00,543.48 158.00,542.15 L158.00,545.59 C154.00,546.71 146.00,546.71 142.00,545.59 Z" fill="#000" fill-opacity="1.00" filter="url(#bl)"/>
<path d="M163.70,542.15 C167.70,543.48 175.70,543.48 179.70,542.15 L179.70,545.59 C175.70,546.71 167.70,546.71 163.70,545.59 Z" fill="#000" fill-opacity="1.00" filter="url(#bl)"/>
<line x1="227.00" y1="543.20" x2="230.40" y2="543.20" stroke="#231f20" stroke-width="1.1"/>
<text x="232.80" y="546.00" font-size="9.4" textLength="9.60" lengthAdjust="spacingAndGlyphs">53</text>
<text x="57.20" y="568.80" font-size="8.6" text-anchor="end" textLength="30.60" lengthAdjust="spacingAndGlyphs">GAPDH</text>
<rect x="61.75" y="557.15" width="164.50" height="22.10" fill="#e4e4e4" stroke="#2b2b2b" stroke-width="1.5"/>
<path d="M64.40,563.20 C68.70,564.34 77.30,564.34 81.60,563.20 L81.60,568.12 C77.30,569.08 68.70,569.08 64.40,568.12 Z" fill="#000" fill-opacity="1.00" filter="url(#bl)"/>
<path d="M84.20,563.20 C88.50,564.34 97.10,564.34 101.40,563.20 L101.40,568.12 C97.10,569.08 88.50,569.08 84.20,568.12 Z" fill="#000" fill-opacity="1.00" filter="url(#bl)"/>
<path d="M104.30,563.20 C108.60,564.34 117.20,564.34 121.50,563.20 L121.50,568.12 C117.20,569.08 108.60,569.08 104.30,568.12 Z" fill="#000" fill-opacity="1.00" filter="url(#bl)"/>
<path d="M124.30,563.20 C128.60,564.34 137.20,564.34 141.50,563.20 L141.50,568.12 C137.20,569.08 128.60,569.08 124.30,568.12 Z" fill="#000" fill-opacity="1.00" filter="url(#bl)"/>
<path d="M144.40,563.20 C148.70,564.34 157.30,564.34 161.60,563.20 L161.60,568.12 C157.30,569.08 148.70,569.08 144.40,568.12 Z" fill="#000" fill-opacity="1.00" filter="url(#bl)"/>
<path d="M164.40,563.20 C168.70,564.34 177.30,564.34 181.60,563.20 L181.60,568.12 C177.30,569.08 168.70,569.08 164.40,568.12 Z" fill="#000" fill-opacity="1.00" filter="url(#bl)"/>
<path d="M184.90,563.20 C189.20,564.34 197.80,564.34 202.10,563.20 L202.10,568.12 C197.80,569.08 189.20,569.08 184.90,568.12 Z" fill="#000" fill-opacity="1.00" filter="url(#bl)"/>
<path d="M205.80,563.20 C210.10,564.34 218.70,564.34 223.00,563.20 L223.00,568.12 C218.70,569.08 210.10,569.08 205.80,568.12 Z" fill="#000" fill-opacity="1.00" filter="url(#bl)"/>
<line x1="227.00" y1="566.20" x2="230.40" y2="566.20" stroke="#231f20" stroke-width="1.1"/>
<text x="232.80" y="569.00" font-size="9.4" textLength="9.40" lengthAdjust="spacingAndGlyphs">37</text>
<text x="419.80" y="400.90" font-size="10.2" text-anchor="middle" textLength="27.40" lengthAdjust="spacingAndGlyphs">Colon</text>
<text x="437.4" y="414.1" font-size="9.4" text-anchor="middle" textLength="50" lengthAdjust="spacingAndGlyphs">BM+CD4<tspan font-size="5.8" dy="-3.6">+</tspan><tspan dy="3.6"> T</tspan></text>
<line x1="388.70" y1="418.50" x2="485.40" y2="418.50" stroke="#231f20" stroke-width="1.3"/>
<text x="359.15" y="431.60" font-size="8.8" text-anchor="middle" textLength="29.50" lengthAdjust="spacingAndGlyphs">WT-BM</text>
<line x1="343.80" y1="434.50" x2="374.50" y2="434.50" stroke="#231f20" stroke-width="1.3"/>
<text x="397.40" y="431.40" font-size="8.8" text-anchor="middle" textLength="12.60" lengthAdjust="spacingAndGlyphs">WT</text>
<line x1="383.00" y1="434.20" x2="411.80" y2="434.20" stroke="#231f20" stroke-width="1.3"/>
<text x="436.35" y="431.40" font-size="8.8" text-anchor="middle" textLength="26.80" lengthAdjust="spacingAndGlyphs" font-style="italic">Ripk3<tspan font-size="5.28" dy="-3.6" font-style="normal">-/-</tspan></text>
<line x1="420.50" y1="434.20" x2="452.20" y2="434.20" stroke="#231f20" stroke-width="1.3"/>
<text x="479.15" y="431.40" font-size="8.8" text-anchor="middle" textLength="25.20" lengthAdjust="spacingAndGlyphs" font-style="italic">Mlkl<tspan font-size="5.28" dy="-3.6" font-style="normal">-/-</tspan></text>
<line x1="463.70" y1="434.20" x2="494.60" y2="434.20" stroke="#231f20" stroke-width="1.3"/>
<text x="347.50" y="446.60" font-size="8.8" text-anchor="middle">1</text>
<text x="367.50" y="446.60" font-size="8.8" text-anchor="middle">2</text>
<text x="389.00" y="446.60" font-size="8.8" text-anchor="middle">1</text>
<text x="409.40" y="446.60" font-size="8.8" text-anchor="middle">2</text>
<text x="429.40" y="446.60" font-size="8.8" text-anchor="middle">1</text>
<text x="449.60" y="446.60" font-size="8.8" text-anchor="middle">2</text>
<text x="469.80" y="446.60" font-size="8.8" text-anchor="middle">1</text>
<text x="490.60" y="446.60" font-size="8.8" text-anchor="middle">2</text>
<text x="509.40" y="446.60" font-size="8.8" textLength="10.60" lengthAdjust="spacingAndGlyphs">kD</text>
<text x="332.70" y="460.80" font-size="8.6" text-anchor="end" textLength="54.40" lengthAdjust="spacingAndGlyphs">p-STAT1-Y701</text>
<rect x="336.70" y="450.90" width="165.20" height="15.40" fill="#c6c6c6" stroke="#2b2b2b" stroke-width="1.8"/>
<path d="M344.50,456.50 C348.25,458.21 355.75,458.21 359.50,456.50 L359.50,459.68 C355.75,461.12 348.25,461.12 344.50,459.68 Z" fill="#000" fill-opacity="0.03" filter="url(#bl)"/>
<path d="M344.50,462.20 C348.25,464.10 355.75,464.10 359.50,462.20 L359.50,464.40 C355.75,466.00 348.25,466.00 344.50,464.40 Z" fill="#000" fill-opacity="0.03" filter="url(#bl)"/>
<path d="M364.50,456.50 C368.25,458.21 375.75,458.21 379.50,456.50 L379.50,459.68 C375.75,461.12 368.25,461.12 364.50,459.68 Z" fill="#000" fill-opacity="0.03" filter="url(#bl)"/>
<path d="M364.50,462.20 C368.25,464.10 375.75,464.10 379.50,462.20 L379.50,464.40 C375.75,466.00 368.25,466.00 364.50,464.40 Z" fill="#000" fill-opacity="0.03" filter="url(#bl)"/>
<path d="M384.80,456.50 C388.55,458.21 396.05,458.21 399.80,456.50 L399.80,459.68 C396.05,461.12 388.55,461.12 384.80,459.68 Z" fill="#000" fill-opacity="0.72" filter="url(#bl)"/>
<path d="M384.80,462.20 C388.55,464.10 396.05,464.10 399.80,462.20 L399.80,464.40 C396.05,466.00 388.55,466.00 384.80,464.40 Z" fill="#000" fill-opacity="0.85" filter="url(#bl)"/>
<path d="M404.10,456.50 C407.85,458.21 415.35,458.21 419.10,456.50 L419.10,459.68 C415.35,461.12 407.85,461.12 404.10,459.68 Z" fill="#000" fill-opacity="0.78" filter="url(#bl)"/>
<path d="M404.10,462.20 C407.85,464.10 415.35,464.10 419.10,462.20 L419.10,464.40 C415.35,466.00 407.85,466.00 404.10,464.40 Z" fill="#000" fill-opacity="0.88" filter="url(#bl)"/>
<path d="M424.20,456.50 C427.95,458.21 435.45,458.21 439.20,456.50 L439.20,459.68 C435.45,461.12 427.95,461.12 424.20,459.68 Z" fill="#000" fill-opacity="0.42" filter="url(#bl)"/>
<path d="M424.20,462.20 C427.95,464.10 435.45,464.10 439.20,462.20 L439.20,464.40 C435.45,466.00 427.95,466.00 424.20,464.40 Z" fill="#000" fill-opacity="0.60" filter="url(#bl)"/>
<path d="M444.20,456.50 C447.95,458.21 455.45,458.21 459.20,456.50 L459.20,459.68 C455.45,461.12 447.95,461.12 444.20,459.68 Z" fill="#000" fill-opacity="0.45" filter="url(#bl)"/>
<path d="M444.20,462.20 C447.95,464.10 455.45,464.10 459.20,462.20 L459.20,464.40 C455.45,466.00 447.95,466.00 444.20,464.40 Z" fill="#000" fill-opacity="0.62" filter="url(#bl)"/>
<path d="M464.60,456.50 C468.35,458.21 475.85,458.21 479.60,456.50 L479.60,459.68 C475.85,461.12 468.35,461.12 464.60,459.68 Z" fill="#000" fill-opacity="0.95" filter="url(#bl)"/>
<path d="M464.60,462.20 C468.35,464.10 475.85,464.10 479.60,462.20 L479.60,464.40 C475.85,466.00 468.35,466.00 464.60,464.40 Z" fill="#000" fill-opacity="0.95" filter="url(#bl)"/>
<path d="M485.20,456.50 C488.95,458.21 496.45,458.21 500.20,456.50 L500.20,459.68 C496.45,461.12 488.95,461.12 485.20,459.68 Z" fill="#000" fill-opacity="1.00" filter="url(#bl)"/>
<path d="M485.20,462.20 C488.95,464.10 496.45,464.10 500.20,462.20 L500.20,464.40 C496.45,466.00 488.95,466.00 485.20,464.40 Z" fill="#000" fill-opacity="1.00" filter="url(#bl)"/>
<line x1="502.80" y1="457.40" x2="506.20" y2="457.40" stroke="#231f20" stroke-width="1.1"/>
<text x="508.60" y="457.70" font-size="9.4" textLength="8.10" lengthAdjust="spacingAndGlyphs">91</text>
<line x1="502.80" y1="462.00" x2="506.20" y2="462.00" stroke="#231f20" stroke-width="1.1"/>
<text x="508.60" y="465.70" font-size="9.4" textLength="8.80" lengthAdjust="spacingAndGlyphs">84</text>
<text x="349.70" y="476.20" font-size="8.6" text-anchor="middle" textLength="15.80" lengthAdjust="spacingAndGlyphs">0.08</text>
<text x="369.80" y="476.20" font-size="8.6" text-anchor="middle" textLength="15.80" lengthAdjust="spacingAndGlyphs">0.05</text>
<text x="389.20" y="476.20" font-size="8.6" text-anchor="middle" textLength="15.80" lengthAdjust="spacingAndGlyphs">0.74</text>
<text x="409.30" y="476.20" font-size="8.6" text-anchor="middle" textLength="15.80" lengthAdjust="spacingAndGlyphs">0.84</text>
<text x="431.00" y="476.20" font-size="8.6" text-anchor="middle" textLength="15.80" lengthAdjust="spacingAndGlyphs">0.45</text>
<text x="450.00" y="476.20" font-size="8.6" text-anchor="middle" textLength="15.80" lengthAdjust="spacingAndGlyphs">0.55</text>
<text x="470.10" y="476.20" font-size="8.6" text-anchor="middle" textLength="15.80" lengthAdjust="spacingAndGlyphs">1.11</text>
<text x="490.20" y="476.20" font-size="8.6" text-anchor="middle" textLength="15.80" lengthAdjust="spacingAndGlyphs">1.19</text>
<text x="332.50" y="495.00" font-size="8.6" text-anchor="end" textLength="25.00" lengthAdjust="spacingAndGlyphs">STAT1</text>
<rect x="336.70" y="484.30" width="164.80" height="16.00" fill="#c4c4c4" stroke="#2b2b2b" stroke-width="1.8"/>
<path d="M338.75,490.60 C342.62,491.91 350.38,491.91 354.25,489.80 L354.25,491.98 C350.38,493.82 342.62,493.82 338.75,492.78 Z" fill="#000" fill-opacity="0.14" filter="url(#bl)"/>
<path d="M338.75,495.60 C342.62,496.91 350.38,496.91 354.25,494.80 L354.25,497.18 C350.38,499.02 342.62,499.02 338.75,497.98 Z" fill="#000" fill-opacity="0.14" filter="url(#bl)"/>
<path d="M359.75,490.60 C363.62,491.91 371.38,491.91 375.25,489.80 L375.25,491.98 C371.38,493.82 363.62,493.82 359.75,492.78 Z" fill="#000" fill-opacity="0.14" filter="url(#bl)"/>
<path d="M359.75,495.60 C363.62,496.91 371.38,496.91 375.25,494.80 L375.25,497.18 C371.38,499.02 363.62,499.02 359.75,497.98 Z" fill="#000" fill-opacity="0.14" filter="url(#bl)"/>
<path d="M381.05,490.60 C384.93,491.91 392.68,491.91 396.55,489.80 L396.55,491.98 C392.68,493.82 384.93,493.82 381.05,492.78 Z" fill="#000" fill-opacity="0.72" filter="url(#bl)"/>
<path d="M381.05,495.60 C384.93,496.91 392.68,496.91 396.55,494.80 L396.55,497.18 C392.68,499.02 384.93,499.02 381.05,497.98 Z" fill="#000" fill-opacity="0.77" filter="url(#bl)"/>
<path d="M401.55,490.60 C405.43,491.91 413.18,491.91 417.05,489.80 L417.05,491.98 C413.18,493.82 405.43,493.82 401.55,492.78 Z" fill="#000" fill-opacity="0.72" filter="url(#bl)"/>
<path d="M401.55,495.60 C405.43,496.91 413.18,496.91 417.05,494.80 L417.05,497.18 C413.18,499.02 405.43,499.02 401.55,497.98 Z" fill="#000" fill-opacity="0.77" filter="url(#bl)"/>
<path d="M422.75,490.60 C426.62,491.91 434.38,491.91 438.25,489.80 L438.25,491.98 C434.38,493.82 426.62,493.82 422.75,492.78 Z" fill="#000" fill-opacity="0.68" filter="url(#bl)"/>
<path d="M422.75,495.60 C426.62,496.91 434.38,496.91 438.25,494.80 L438.25,497.18 C434.38,499.02 426.62,499.02 422.75,497.98 Z" fill="#000" fill-opacity="0.72" filter="url(#bl)"/>
<path d="M443.55,490.60 C447.43,491.91 455.18,491.91 459.05,489.80 L459.05,491.98 C455.18,493.82 447.43,493.82 443.55,492.78 Z" fill="#000" fill-opacity="0.68" filter="url(#bl)"/>
<path d="M443.55,495.60 C447.43,496.91 455.18,496.91 459.05,494.80 L459.05,497.18 C455.18,499.02 447.43,499.02 443.55,497.98 Z" fill="#000" fill-opacity="0.72" filter="url(#bl)"/>
<path d="M463.85,490.60 C467.73,491.91 475.48,491.91 479.35,489.80 L479.35,491.98 C475.48,493.82 467.73,493.82 463.85,492.78 Z" fill="#000" fill-opacity="0.72" filter="url(#bl)"/>
<path d="M463.85,495.60 C467.73,496.91 475.48,496.91 479.35,494.80 L479.35,497.18 C475.48,499.02 467.73,499.02 463.85,497.98 Z" fill="#000" fill-opacity="0.77" filter="url(#bl)"/>
<path d="M484.45,490.60 C488.32,491.91 496.07,491.91 499.95,489.80 L499.95,491.98 C496.07,493.82 488.32,493.82 484.45,492.78 Z" fill="#000" fill-opacity="0.77" filter="url(#bl)"/>
<path d="M484.45,495.60 C488.32,496.91 496.07,496.91 499.95,494.80 L499.95,497.18 C496.07,499.02 488.32,499.02 484.45,497.98 Z" fill="#000" fill-opacity="0.81" filter="url(#bl)"/>
<line x1="502.40" y1="486.30" x2="505.80" y2="486.30" stroke="#231f20" stroke-width="1.1"/>
<text x="508.20" y="488.70" font-size="9.4" textLength="8.10" lengthAdjust="spacingAndGlyphs">91</text>
<line x1="502.40" y1="494.20" x2="505.80" y2="494.20" stroke="#231f20" stroke-width="1.1"/>
<text x="508.20" y="498.10" font-size="9.4" textLength="8.80" lengthAdjust="spacingAndGlyphs">84</text>
<text x="347.70" y="511.30" font-size="8.6" text-anchor="middle" textLength="15.80" lengthAdjust="spacingAndGlyphs">0.13</text>
<text x="368.50" y="511.30" font-size="8.6" text-anchor="middle" textLength="15.80" lengthAdjust="spacingAndGlyphs">0.13</text>
<text x="388.50" y="511.30" font-size="8.6" text-anchor="middle" textLength="15.80" lengthAdjust="spacingAndGlyphs">0.80</text>
<text x="409.50" y="511.30" font-size="8.6" text-anchor="middle" textLength="15.80" lengthAdjust="spacingAndGlyphs">0.93</text>
<text x="430.50" y="511.30" font-size="8.6" text-anchor="middle" textLength="15.80" lengthAdjust="spacingAndGlyphs">0.59</text>
<text x="450.60" y="511.30" font-size="8.6" text-anchor="middle" textLength="15.80" lengthAdjust="spacingAndGlyphs">0.67</text>
<text x="470.70" y="511.30" font-size="8.6" text-anchor="middle" textLength="15.80" lengthAdjust="spacingAndGlyphs">0.83</text>
<text x="491.50" y="511.30" font-size="8.6" text-anchor="middle" textLength="15.80" lengthAdjust="spacingAndGlyphs">0.90</text>
<text x="333.20" y="528.80" font-size="8.6" text-anchor="end" textLength="22.60" lengthAdjust="spacingAndGlyphs">RIPK3</text>
<rect x="336.70" y="518.50" width="164.60" height="15.60" fill="#c7c7c7" stroke="#2b2b2b" stroke-width="1.8"/>
<path d="M340.60,522.60 C344.75,524.31 353.05,524.31 357.20,522.60 L357.20,526.18 C353.05,527.62 344.75,527.62 340.60,526.18 Z" fill="#000" fill-opacity="0.95" filter="url(#bl3)"/>
<path d="M361.00,522.60 C365.15,524.31 373.45,524.31 377.60,522.60 L377.60,526.18 C373.45,527.62 365.15,527.62 361.00,526.18 Z" fill="#000" fill-opacity="0.95" filter="url(#bl3)"/>
<path d="M381.60,522.60 C385.75,524.31 394.05,524.31 398.20,522.60 L398.20,526.18 C394.05,527.62 385.75,527.62 381.60,526.18 Z" fill="#000" fill-opacity="0.95" filter="url(#bl3)"/>
<path d="M400.50,522.60 C404.65,524.31 412.95,524.31 417.10,522.60 L417.10,526.18 C412.95,527.62 404.65,527.62 400.50,526.18 Z" fill="#000" fill-opacity="0.95" filter="url(#bl3)"/>
<path d="M461.00,522.60 C465.15,524.31 473.45,524.31 477.60,522.60 L477.60,526.18 C473.45,527.62 465.15,527.62 461.00,526.18 Z" fill="#000" fill-opacity="0.95" filter="url(#bl3)"/>
<path d="M481.60,522.60 C485.75,524.31 494.05,524.31 498.20,522.60 L498.20,526.18 C494.05,527.62 485.75,527.62 481.60,526.18 Z" fill="#000" fill-opacity="0.95" filter="url(#bl3)"/>
<line x1="502.20" y1="524.90" x2="505.60" y2="524.90" stroke="#231f20" stroke-width="1.1"/>
<text x="508.00" y="527.70" font-size="9.4" textLength="9.60" lengthAdjust="spacingAndGlyphs">55</text>
<text x="333.20" y="549.60" font-size="8.6" text-anchor="end" textLength="22.00" lengthAdjust="spacingAndGlyphs">MLKL</text>
<rect x="336.70" y="539.30" width="164.60" height="15.80" fill="#c6c6c6" stroke="#2b2b2b" stroke-width="1.8"/>
<path d="M338.25,545.40 C343.12,546.92 352.88,546.92 357.75,545.40 L357.75,548.76 C352.88,550.04 343.12,550.04 338.25,548.76 Z" fill="#000" fill-opacity="0.95" filter="url(#bl3)"/>
<path d="M359.75,545.40 C364.62,546.92 374.38,546.92 379.25,545.40 L379.25,548.76 C374.38,550.04 364.62,550.04 359.75,548.76 Z" fill="#000" fill-opacity="0.95" filter="url(#bl3)"/>
<path d="M380.25,545.40 C385.12,546.92 394.88,546.92 399.75,545.40 L399.75,548.76 C394.88,550.04 385.12,550.04 380.25,548.76 Z" fill="#000" fill-opacity="0.95" filter="url(#bl3)"/>
<path d="M399.25,545.40 C404.12,546.92 413.88,546.92 418.75,545.40 L418.75,548.76 C413.88,550.04 404.12,550.04 399.25,548.76 Z" fill="#000" fill-opacity="0.95" filter="url(#bl3)"/>
<path d="M419.25,545.40 C424.12,546.92 433.88,546.92 438.75,545.40 L438.75,548.76 C433.88,550.04 424.12,550.04 419.25,548.76 Z" fill="#000" fill-opacity="0.95" filter="url(#bl3)"/>
<path d="M438.95,545.40 C443.82,546.92 453.57,546.92 458.45,545.40 L458.45,548.76 C453.57,550.04 443.82,550.04 438.95,548.76 Z" fill="#000" fill-opacity="0.95" filter="url(#bl3)"/>
<line x1="502.20" y1="549.00" x2="505.60" y2="549.00" stroke="#231f20" stroke-width="1.1"/>
<text x="508.00" y="551.80" font-size="9.4" textLength="9.60" lengthAdjust="spacingAndGlyphs">53</text>
<text x="333.20" y="569.60" font-size="8.6" text-anchor="end" textLength="30.60" lengthAdjust="spacingAndGlyphs">GAPDH</text>
<rect x="336.70" y="560.10" width="164.60" height="19.00" fill="#c7c7c7" stroke="#2b2b2b" stroke-width="1.8"/>
<path d="M339.50,565.30 C343.75,566.82 352.25,566.82 356.50,565.30 L356.50,568.86 C352.25,570.14 343.75,570.14 339.50,568.86 Z" fill="#000" fill-opacity="0.95" filter="url(#bl3)"/>
<path d="M360.30,565.30 C364.55,566.82 373.05,566.82 377.30,565.30 L377.30,568.86 C373.05,570.14 364.55,570.14 360.30,568.86 Z" fill="#000" fill-opacity="0.95" filter="url(#bl3)"/>
<path d="M380.00,565.30 C384.25,566.82 392.75,566.82 397.00,565.30 L397.00,568.86 C392.75,570.14 384.25,570.14 380.00,568.86 Z" fill="#000" fill-opacity="0.95" filter="url(#bl3)"/>
<path d="M400.10,565.30 C404.35,566.82 412.85,566.82 417.10,565.30 L417.10,568.86 C412.85,570.14 404.35,570.14 400.10,568.86 Z" fill="#000" fill-opacity="0.95" filter="url(#bl3)"/>
<path d="M420.50,565.30 C424.75,566.82 433.25,566.82 437.50,565.30 L437.50,568.86 C433.25,570.14 424.75,570.14 420.50,568.86 Z" fill="#000" fill-opacity="0.95" filter="url(#bl3)"/>
<path d="M440.50,565.30 C444.75,566.82 453.25,566.82 457.50,565.30 L457.50,568.86 C453.25,570.14 444.75,570.14 440.50,568.86 Z" fill="#000" fill-opacity="0.95" filter="url(#bl3)"/>
<path d="M460.30,565.30 C464.55,566.82 473.05,566.82 477.30,565.30 L477.30,568.86 C473.05,570.14 464.55,570.14 460.30,568.86 Z" fill="#000" fill-opacity="0.95" filter="url(#bl3)"/>
<path d="M481.20,565.30 C485.45,566.82 493.95,566.82 498.20,565.30 L498.20,568.86 C493.95,570.14 485.45,570.14 481.20,568.86 Z" fill="#000" fill-opacity="0.95" filter="url(#bl3)"/>
<line x1="502.20" y1="567.60" x2="505.60" y2="567.60" stroke="#231f20" stroke-width="1.1"/>
<text x="508.00" y="570.40" font-size="9.4" textLength="9.40" lengthAdjust="spacingAndGlyphs">37</text>
</svg></body></html>
